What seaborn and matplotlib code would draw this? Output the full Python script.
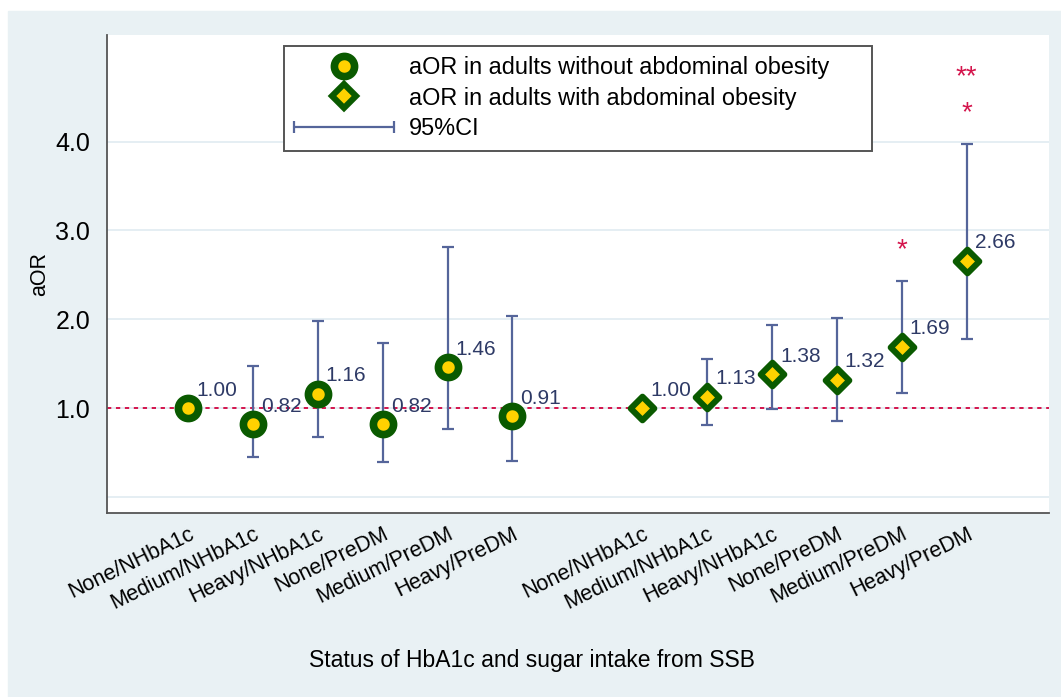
import numpy as np
import pandas as pd
import seaborn as sns
import matplotlib.pyplot as plt
from matplotlib.lines import Line2D
from matplotlib.legend_handler import HandlerLine2D
from matplotlib.patches import Rectangle

# ---- data ----
categories = ["None/NHbA1c", "Medium/NHbA1c", "Heavy/NHbA1c",
              "None/PreDM", "Medium/PreDM", "Heavy/PreDM"]

aor_no_obesity = [1.00, 0.82, 1.16, 0.82, 1.46, 0.91]
ci_low_no_obesity = [np.nan, 0.45, 0.67, 0.39, 0.76, 0.40]
ci_high_no_obesity = [np.nan, 1.47, 1.98, 1.73, 2.81, 2.04]

aor_obesity = [1.00, 1.13, 1.38, 1.32, 1.69, 2.66]
ci_low_obesity = [np.nan, 0.81, 0.99, 0.86, 1.17, 1.78]
ci_high_obesity = [np.nan, 1.55, 1.94, 2.01, 2.43, 3.97]

# significance marks for the obesity group (category index, height, text)
star_idx = [4, 5, 5]
star_y = [2.83, 4.38, 4.78]
star_txt = ["*", "*", "**"]

GREEN = "#0a5a00"
YELLOW = "#ffd200"
CI_COL = "#55659a"
RED = "#d4144c"
LABEL_COL = "#2e3a66"
GRID_COL = "#e3edf2"
PANEL_COL = "#e9f1f4"

sns.set_style("white")
plt.rcParams["font.family"] = ["Liberation Sans", "DejaVu Sans"]
plt.rcParams["text.color"] = "black"
plt.rcParams["axes.labelcolor"] = "black"
plt.rcParams["xtick.color"] = "black"
plt.rcParams["ytick.color"] = "black"

n = len(categories)
df = pd.concat([
    pd.DataFrame({"pos": np.arange(n) + 1, "aor": aor_no_obesity,
                  "lo": ci_low_no_obesity, "hi": ci_high_no_obesity,
                  "group": "without", "cat": categories}),
    pd.DataFrame({"pos": np.arange(n) + n + 2, "aor": aor_obesity,
                  "lo": ci_low_obesity, "hi": ci_high_obesity,
                  "group": "with", "cat": categories}),
], ignore_index=True)

fig = plt.figure(figsize=(10.61, 6.97), dpi=100, facecolor="white")
fig.patches.append(Rectangle((8 / 1061, 0), 1, 1 - 11 / 697,
                             transform=fig.transFigure, color=PANEL_COL, zorder=-10))
ax = fig.add_axes([107 / 1061, 1 - 513 / 697, (1049 - 107) / 1061, (513 - 35) / 697])
ax.set_zorder(1)
ax.set_facecolor("white")

# grid + reference line
for yv in [0, 1, 2, 3, 4]:
    ax.axhline(yv, color=GRID_COL, lw=1.3, zorder=0)
ax.axhline(1, color=RED, lw=1.4, ls=(0, (2.2, 2.4)), zorder=1)

# confidence intervals
ci = df.dropna()
ax.errorbar(ci["pos"], ci["aor"], yerr=[ci["aor"] - ci["lo"], ci["hi"] - ci["aor"]],
            fmt="none", ecolor=CI_COL, elinewidth=1.6, capsize=4, capthick=1.6, zorder=2)

# point estimates
sns.scatterplot(data=df[df.group == "without"], x="pos", y="aor", marker="o",
                s=14.5 ** 2, color=YELLOW, edgecolor=GREEN, linewidths=5.5,
                legend=False, ax=ax, zorder=3)
sns.scatterplot(data=df[df.group == "with"], x="pos", y="aor", marker="D",
                s=12 ** 2, color=YELLOW, edgecolor=GREEN, linewidths=4.4,
                legend=False, ax=ax, zorder=3)

for _, r in df.iterrows():
    ax.annotate(f"{r['aor']:.2f}", (r["pos"], r["aor"]), xytext=(8, 18),
                textcoords="offset pixels", ha="left", va="center",
                fontsize=15, color=LABEL_COL, zorder=4)

obese_pos = df[df.group == "with"]["pos"].to_numpy()
for i, yv, t in zip(star_idx, star_y, star_txt):
    ax.annotate(t, (obese_pos[i], yv), xytext=(0, -12), textcoords="offset pixels",
                ha="center", va="baseline", fontsize=20, color=RED)

# axes styling
ax.set_xlim(-0.25, 14.27)
ax.set_ylim(-0.18, 5.2)
ax.set_yticks([1, 2, 3, 4])
ax.set_yticklabels(["1.0", "2.0", "3.0", "4.0"])
ax.set_xticks(df["pos"])
ax.set_xticklabels(df["cat"], rotation=26, ha="right", rotation_mode="anchor")
ax.tick_params(axis="y", labelsize=18, length=7, width=1.1, color="#555555", pad=5)
ax.tick_params(axis="x", labelsize=15.5, length=6.5, width=1.1, color="#555555", pad=1)
for s in ["top", "right"]:
    ax.spines[s].set_visible(False)
for s in ["left", "bottom"]:
    ax.spines[s].set_color("#555555")
    ax.spines[s].set_linewidth(1.3)
ax.set_xlabel("")
ax.set_ylabel("aOR", fontsize=15.5, labelpad=4)
fig.text(0.501, 1 - 660 / 697, "Status of HbA1c and sugar intake from SSB",
         ha="center", va="center", fontsize=16.5)

# legend
h_circle = Line2D([], [], ls="none", marker="o", ms=14.5, mfc=YELLOW, mec=GREEN, mew=5.5)
h_diamond = Line2D([], [], ls="none", marker="D", ms=12, mfc=YELLOW, mec=GREEN, mew=4.4)
h_ci = Line2D([0, 1], [0, 0], color=CI_COL, lw=1.6, marker="|", ms=9, mew=1.6)
leg = ax.legend([h_circle, h_diamond, h_ci],
                ["aOR in adults without abdominal obesity     ",
                 "aOR in adults with abdominal obesity",
                 "95%CI"],
                handler_map={h_ci: HandlerLine2D(numpoints=2, marker_pad=0),
                             h_circle: HandlerLine2D(numpoints=1),
                             h_diamond: HandlerLine2D(numpoints=1)},
                loc="upper center", bbox_to_anchor=(0.5, 1), fontsize=16.9,
                handlelength=4.25, handletextpad=0.65, labelspacing=0.32,
                borderpad=0.45, borderaxespad=0.45, fancybox=False, framealpha=1,
                edgecolor="#555555")
leg.get_frame().set_linewidth(1.4)

fig.savefig("out.png", dpi=100, facecolor=fig.get_facecolor())
